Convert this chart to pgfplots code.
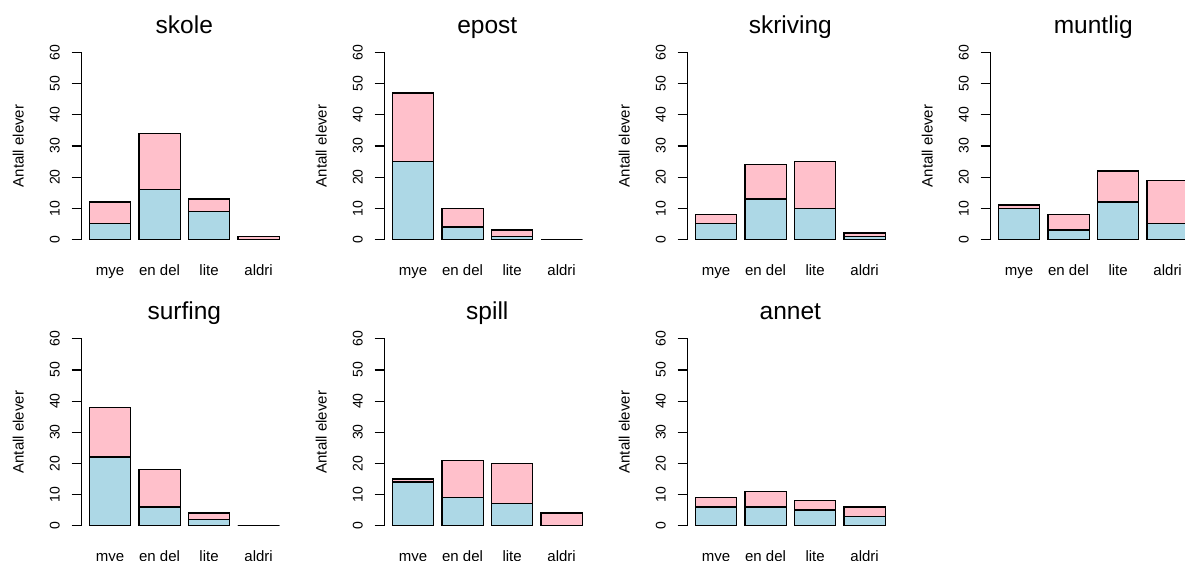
\documentclass[border=0pt]{standalone}
\usepackage{pgfplots}
\usepackage{pgfplotstable}
\usepackage{fontspec}
\pgfplotsset{compat=1.18}
\setmainfont{Liberation Sans}

\definecolor{barblue}{HTML}{ADD8E6}
\definecolor{barpink}{HTML}{FFC0CB}

% one table per activity: bar position, lower (blue) count and bar total
\pgfplotstableread{
x   blue total
0.7 5    12
1.9 16   34
3.1 9    13
4.3 0    1
}\skole
\pgfplotstableread{
x   blue total
0.7 25   47
1.9 4    10
3.1 1    3
4.3 0    0
}\epost
\pgfplotstableread{
x   blue total
0.7 5    8
1.9 13   24
3.1 10   25
4.3 1    2
}\skriving
\pgfplotstableread{
x   blue total
0.7 10   11
1.9 3    8
3.1 12   22
4.3 5    19
}\muntlig
\pgfplotstableread{
x   blue total
0.7 22   38
1.9 6    18
3.1 2    4
4.3 0    0
}\surfing
\pgfplotstableread{
x   blue total
0.7 14   15
1.9 9    21
3.1 7    20
4.3 0    4
}\spill
\pgfplotstableread{
x   blue total
0.7 6    9
1.9 6    11
3.1 5    8
4.3 3    6
}\annet

\pgfplotsset{
  panel/.style={
    scale only axis, width=205.2pt, height=201.6pt,
    anchor=south west,
    xmin=0.016, xmax=4.984, ymin=-2.4, ymax=62.4,
    axis lines*=left, axis line style={draw=none},
    ybar, bar width=1, bar shift=0pt,
    xtick={0.7,1.9,3.1,4.3}, xticklabels={mye,en del,lite,aldri},
    ytick={0,10,...,60},
    tick align=outside, major tick length=10pt,
    x tick style={draw=none},
    y tick style={black, line width=1.1pt},
    /pgf/number format/assume math mode=true,
    xticklabel style={font=\fontsize{15}{18}\selectfont, anchor=base, yshift=-18.2pt},
    yticklabel style={font=\fontsize{14}{16}\selectfont, xshift=-11.7pt, rotate=90, anchor=south, inner sep=0pt},
    ylabel={Antall elever},
    every axis y label/.style={at={(rel axis cs:0,0.5)}, xshift=-63.4pt, rotate=90, anchor=center, font=\fontsize{15}{18}\selectfont},
    every axis title/.style={at={(rel axis cs:0.5,1)}, yshift=11.7pt, anchor=base, font=\fontsize{24.5}{29}\selectfont},
    clip=false,
  },
  upper/.style={fill=barpink, draw=black, line width=1.3pt},
  lower/.style={fill=barblue, draw=black, line width=1.3pt},
  empty bar/.style={sharp plot, draw=black, line width=1.3pt, mark=none},
}

% pink total bar with the blue part laid over its lower end
\newcommand{\panel}[3]{%
  \begin{axis}[panel, at={#1}, title={#2}]
    \addplot[upper] table[x=x, y=total] {#3};
    \addplot[lower] table[x=x, y=blue] {#3};
    \draw[black, line width=1.1pt] (axis cs:0.016,0) -- (axis cs:0.016,60);
  \end{axis}%
}

\begin{document}
\begin{tikzpicture}[x=1pt, y=1pt]
  \useasboundingbox (0,0) rectangle (1185,560);
  \clip (0,0) rectangle (1185,560);
  \panel{(81.7pt,313.2pt)}{skole}{\skole}
  \panel{(384.7pt,313.2pt)}{epost}{\epost}
  \panel{(687.7pt,313.2pt)}{skriving}{\skriving}
  \panel{(990.7pt,313.2pt)}{muntlig}{\muntlig}
  \panel{(81.7pt,27.0pt)}{surfing}{\surfing}
  \panel{(384.7pt,27.0pt)}{spill}{\spill}
  \panel{(687.7pt,27.0pt)}{annet}{\annet}
  % outline of the empty "aldri" bars (height 0)
  \begin{axis}[panel, at={(384.7pt,313.2pt)}, hide axis]
    \addplot[empty bar] coordinates {(3.8,0) (4.8,0)};
  \end{axis}
  \begin{axis}[panel, at={(81.7pt,27.0pt)}, hide axis]
    \addplot[empty bar] coordinates {(3.8,0) (4.8,0)};
  \end{axis}
\end{tikzpicture}
\end{document}
